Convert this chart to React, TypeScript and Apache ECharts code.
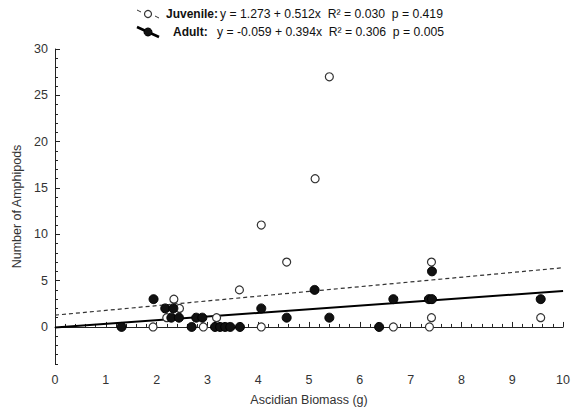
import React, { useEffect, useRef } from "react";
import * as echarts from "echarts";

const juvenileX = [1.93, 2.2, 2.34, 2.45, 2.92, 3.18, 3.63, 4.06, 4.06, 4.56, 5.12, 5.4, 6.66, 7.37, 7.41, 7.41, 9.56];
const juvenileY = [0, 1, 3, 2, 0, 1, 4, 0, 11, 7, 16, 27, 0, 0, 1, 7, 1];
const adultX = [1.31, 1.94, 2.17, 2.33, 2.29, 2.44, 2.69, 2.78, 2.9, 3.15, 3.25, 3.35, 3.45, 3.64, 4.06, 4.56, 5.11, 5.4, 6.38, 6.66, 7.36, 7.42, 7.42, 9.56];
const adultY = [0, 3, 2, 2, 1, 1, 0, 1, 1, 0, 0, 0, 0, 0, 2, 1, 4, 1, 0, 3, 3, 3, 6, 3];

const juvenileFit = { intercept: 1.273, slope: 0.512 };
const adultFit = { intercept: -0.059, slope: 0.394 };
const fitRange = [0, 10];

const yTickLabels = [0, 5, 10, 15, 20, 25, 30];
const yMinorTicks = Array.from({ length: 35 }, (_, i) => i - 4);

const FONT = "Liberation Sans, Arial, sans-serif";

export default function App() {
  const ref = useRef<HTMLDivElement>(null);
  useEffect(() => {
    if (!ref.current) return;
    const chart = echarts.init(ref.current, null, { renderer: "svg" });
    const juvPts = juvenileX.map((x, i) => [x, juvenileY[i]]);
    const adPts = adultX.map((x, i) => [x, adultY[i]]);
    const juvLine = fitRange.map((x) => [x, juvenileFit.intercept + juvenileFit.slope * x]);
    const adLine = fitRange.map((x) => [x, adultFit.intercept + adultFit.slope * x]);
    const axisColor = "#222";
    const labelColor = "#333";
    chart.setOption({
      animation: false,
      textStyle: { fontFamily: FONT },
      grid: { left: 55, right: 9, top: 49, bottom: 48 },
      xAxis: {
        type: "value",
        min: 0,
        max: 10,
        interval: 1,
        name: "Ascidian Biomass (g)",
        nameLocation: "middle",
        nameGap: 29,
        nameTextStyle: { fontSize: 12.5, color: labelColor, fontFamily: FONT },
        axisLine: { show: true, lineStyle: { color: axisColor, width: 1 } },
        axisTick: { show: true, inside: true, length: 5, lineStyle: { color: axisColor } },
        minorTick: { show: true, splitNumber: 5, length: 3, lineStyle: { color: axisColor } },
        axisLabel: { fontSize: 12.5, color: labelColor, margin: 9, fontFamily: FONT },
        splitLine: { show: false },
      },
      yAxis: [
        {
          type: "value",
          min: -4,
          max: 30,
          name: "Number of Amphipods",
          nameLocation: "middle",
          nameGap: 27,
          nameTextStyle: { fontSize: 12.5, color: labelColor, fontFamily: FONT },
          axisLine: { show: true, lineStyle: { color: axisColor, width: 1 } },
          axisTick: { show: true, inside: true, length: 5, customValues: yTickLabels, lineStyle: { color: axisColor } },
          axisLabel: { fontSize: 12.5, color: labelColor, margin: 7, customValues: yTickLabels, fontFamily: FONT },
          splitLine: { show: false },
        },
        {
          type: "value",
          min: -4,
          max: 30,
          position: "left",
          axisLine: { show: false },
          axisTick: { show: true, inside: true, length: 3, customValues: yMinorTicks, lineStyle: { color: axisColor } },
          axisLabel: { show: false },
          splitLine: { show: false },
        },
      ],
      series: [
        {
          type: "line",
          data: juvLine,
          symbol: "none",
          lineStyle: { color: "#333", width: 1.2, type: [4, 3] },
          z: 1,
          silent: true,
        },
        {
          type: "line",
          data: adLine,
          symbol: "none",
          lineStyle: { color: "#000", width: 2 },
          z: 1,
          silent: true,
        },
        {
          type: "scatter",
          data: juvPts,
          symbol: "circle",
          symbolSize: 8,
          itemStyle: { color: "#fff", borderColor: "#333", borderWidth: 1.2, opacity: 1 },
          z: 2,
        },
        {
          type: "scatter",
          data: adPts,
          symbol: "circle",
          symbolSize: 9,
          itemStyle: { color: "#111", borderColor: "#000", borderWidth: 1, opacity: 1 },
          z: 3,
        },
      ],
      graphic: [
        { type: "line", shape: { x1: 137, y1: 10, x2: 141, y2: 12 }, style: { stroke: "#333", lineWidth: 1 } },
        { type: "circle", shape: { cx: 148, cy: 14, r: 3.5 }, style: { fill: "#fff", stroke: "#333", lineWidth: 1.2 } },
        { type: "line", shape: { x1: 155, y1: 16, x2: 159, y2: 18 }, style: { stroke: "#333", lineWidth: 1 } },
        { type: "line", shape: { x1: 137, y1: 27, x2: 159, y2: 37 }, style: { stroke: "#000", lineWidth: 2.5 } },
        { type: "circle", shape: { cx: 148, cy: 32, r: 4 }, style: { fill: "#111", stroke: "#000", lineWidth: 1 } },
        {
          type: "text",
          x: 166,
          y: 14,
          style: { text: "Juvenile:", fontSize: 12, fontWeight: "bold", fill: "#111", fontFamily: FONT, verticalAlign: "middle" },
        },
        {
          type: "text",
          x: 220,
          y: 14,
          style: { text: "y = 1.273 + 0.512x  R\u00B2 = 0.030  p = 0.419", fontSize: 12.2, fill: "#111", fontFamily: FONT, verticalAlign: "middle" },
        },
        {
          type: "text",
          x: 173,
          y: 32,
          style: { text: "Adult:", fontSize: 12, fontWeight: "bold", fill: "#111", fontFamily: FONT, verticalAlign: "middle" },
        },
        {
          type: "text",
          x: 217,
          y: 32,
          style: { text: "y = -0.059 + 0.394x  R\u00B2 = 0.306  p = 0.005", fontSize: 12.2, fill: "#111", fontFamily: FONT, verticalAlign: "middle" },
        },
      ],
    });
    return () => chart.dispose();
  }, []);
  return <div ref={ref} style={{ position: "fixed", left: 0, top: 0, width: 573, height: 412, background: "#fff" }} />;
}
